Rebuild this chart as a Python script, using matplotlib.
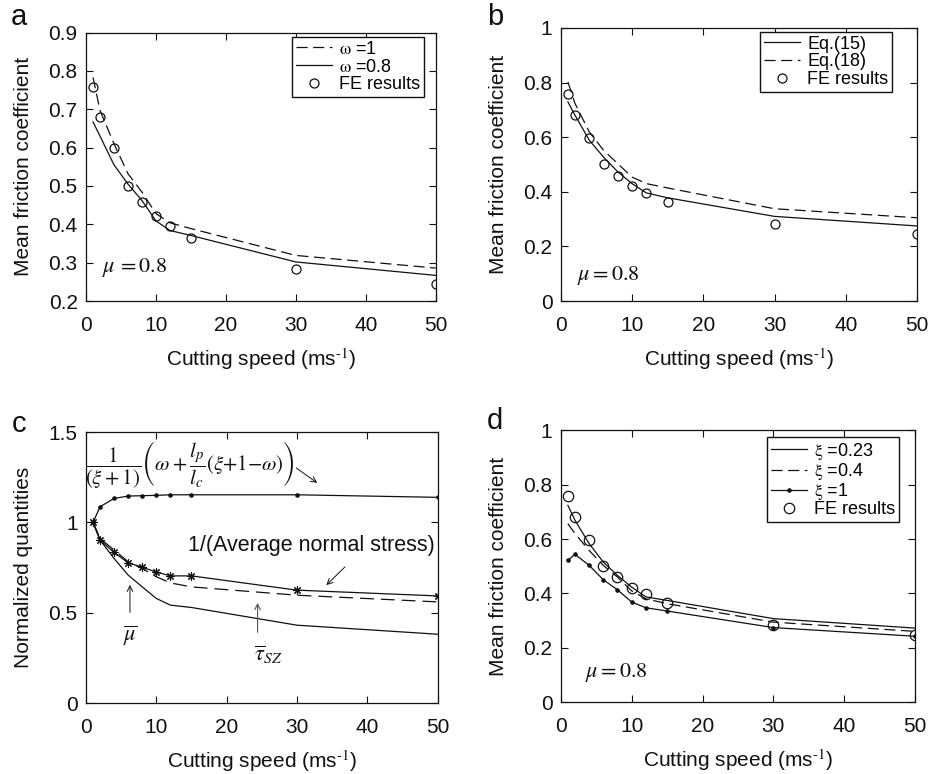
import matplotlib
matplotlib.use("Agg")
import matplotlib.pyplot as plt

plt.rcParams['font.family'] = ['Liberation Sans', 'DejaVu Sans']
plt.rcParams['mathtext.fontset'] = 'stix'
plt.rcParams['lines.scale_dashes'] = False
plt.rcParams['axes.linewidth'] = 0.9

# cutting speeds (m/s)
speed = [1, 2, 4, 6, 8, 10, 12, 15, 30, 50]

# FE results (shared by a, b, d)
fe_mu = [0.758, 0.680, 0.598, 0.501, 0.459, 0.421, 0.396, 0.364, 0.283, 0.245]

# panel a
a_omega1 = [0.783, 0.697, 0.610, 0.532, 0.484, 0.428, 0.404, 0.389, 0.319, 0.286]
a_omega08 = [0.667, 0.630, 0.555, 0.505, 0.462, 0.409, 0.384, 0.371, 0.302, 0.267]

# panel b
b_eq15 = [0.729, 0.680, 0.589, 0.527, 0.473, 0.430, 0.396, 0.378, 0.310, 0.275]
b_eq18 = [0.802, 0.723, 0.619, 0.552, 0.503, 0.454, 0.430, 0.414, 0.338, 0.305]

# panel c
c_ratio = [1.00, 1.087, 1.133, 1.146, 1.148, 1.150, 1.153, 1.153, 1.153, 1.139]
c_inv_stress = [1.00, 0.902, 0.834, 0.776, 0.752, 0.725, 0.704, 0.704, 0.625, 0.593]
c_tau = [1.00, 0.911, 0.847, 0.782, 0.745, 0.699, 0.665, 0.643, 0.597, 0.560]
c_mu = [1.00, 0.902, 0.800, 0.708, 0.643, 0.579, 0.542, 0.529, 0.431, 0.381]

# panel d
d_xi023 = [0.724, 0.669, 0.583, 0.515, 0.466, 0.423, 0.387, 0.374, 0.307, 0.272]
d_xi04 = [0.656, 0.620, 0.558, 0.503, 0.460, 0.409, 0.380, 0.362, 0.294, 0.260]
d_xi1 = [0.521, 0.544, 0.503, 0.450, 0.413, 0.368, 0.347, 0.335, 0.274, 0.242]

xticks = [0, 10, 20, 30, 40, 50]
xlab = r'Cutting speed (ms$^{\text{-1}}$)'
ylab_mu = 'Mean friction coefficient'

K = '#111111'
LW = 0.9
DASH = (8, 4)
TICK_FS = 15
LAB_FS = 15
LEG_FS = 13

fig = plt.figure(figsize=(9.3, 7.74), dpi=100)
ax_a = fig.add_axes([0.0925, 0.611, 0.376, 0.347])
ax_b = fig.add_axes([0.603, 0.611, 0.383, 0.353])
ax_c = fig.add_axes([0.0925, 0.0917, 0.378, 0.350])
ax_d = fig.add_axes([0.603, 0.093, 0.381, 0.351])


def style(ax, yticks, ylabels, ylim, ylabel):
    ax.set_xlim(0, 50)
    ax.set_ylim(*ylim)
    ax.set_xticks(xticks)
    ax.set_xticklabels([str(t) for t in xticks])
    ax.set_yticks(yticks)
    ax.set_yticklabels(ylabels)
    ax.tick_params(direction='in', top=True, right=True, length=5, width=0.8,
                   labelsize=TICK_FS, colors=K)
    ax.tick_params(axis='x', pad=11)
    ax.tick_params(axis='y', pad=6)
    ax.set_xlabel(xlab, fontsize=LAB_FS, color=K, labelpad=8)
    ax.set_ylabel(ylabel, fontsize=LAB_FS, color=K, labelpad=11)
    for s in ax.spines.values():
        s.set_color(K)


def leg(ax, handles, labels, anchor, spacing=0.05):
    lg = ax.legend(handles, labels, loc='upper right', bbox_to_anchor=anchor,
                   fontsize=LEG_FS, frameon=True, fancybox=False, framealpha=1,
                   edgecolor=K, handlelength=2.0, handletextpad=0.4,
                   labelspacing=spacing, borderpad=0.2, borderaxespad=0, numpoints=1)
    lg.get_frame().set_linewidth(1.0)
    return lg


# ---- a ----
ax = ax_a
l1, = ax.plot(speed, a_omega1, color=K, lw=LW, dashes=DASH)
l2, = ax.plot(speed, a_omega08, color=K, lw=LW)
l3, = ax.plot(speed, fe_mu, 'o', mfc='none', mec=K, ms=6.5, mew=0.9)
style(ax, [0.2, 0.3, 0.4, 0.5, 0.6, 0.7, 0.8, 0.9],
      ['0.2', '0.3', '0.4', '0.5', '0.6', '0.7', '0.8', '0.9'], (0.2, 0.9), ylab_mu)
leg(ax, [l1, l2, l3], [r'$\mathrm{\omega}$ =1', r'$\mathrm{\omega}$ =0.8', 'FE results'],
    (0.967, 0.983))
ax.text(2.3, 0.287, r'$\mu\,{=}0.8$', fontsize=16, color=K, va='center', ha='left')

# ---- b ----
ax = ax_b
l1, = ax.plot(speed, b_eq15, color=K, lw=LW)
l2, = ax.plot(speed, b_eq18, color=K, lw=LW, dashes=DASH)
l3, = ax.plot(speed, fe_mu, 'o', mfc='none', mec=K, ms=6.5, mew=0.9)
style(ax, [0, 0.2, 0.4, 0.6, 0.8, 1.0], ['0', '0.2', '0.4', '0.6', '0.8', '1'], (0, 1), ylab_mu)
leg(ax, [l1, l2, l3], ['Eq.(15)', 'Eq.(18)', 'FE results'], (0.93, 0.985))
ax.text(2.25, 0.095, r'$\mu = 0.8$', fontsize=16, color=K, va='center', ha='left')

# ---- c ----
ax = ax_c
ax.plot(speed, c_ratio, color=K, lw=LW, marker='o', ms=2.3)
ax.plot(speed, c_inv_stress, color=K, lw=LW, marker=(8, 2, 0), ms=6, mew=0.8)
ax.plot(speed, c_tau, color=K, lw=LW, dashes=(10, 5))
ax.plot(speed, c_mu, color=K, lw=LW)
style(ax, [0, 0.5, 1.0, 1.5], ['0', '0.5', '1', '1.5'], (0, 1.5), 'Normalized quantities')
ax.text(14.8, 1.317,
        r'$\dfrac{1}{(\xi+1)}\left(\omega+\dfrac{l_p}{l_c}(\xi{+}1{-}\omega)\right)$',
        fontsize=15, color=K, ha='center', va='center')
ax.annotate('', xy=(33.2, 1.21), xytext=(29.6, 1.31),
            arrowprops=dict(arrowstyle='->', color=K, lw=0.7))
ax.text(32.0, 0.874, '1/(Average normal stress)', fontsize=15.5, color=K,
        ha='center', va='center')
ax.annotate('', xy=(33.9, 0.642), xytext=(37.1, 0.764),
            arrowprops=dict(arrowstyle='->', color=K, lw=0.7))
ax.annotate('', xy=(6.25, 0.67), xytext=(6.25, 0.487),
            arrowprops=dict(arrowstyle='->', color=K, lw=0.7))
ax.text(6.25, 0.37, r'$\overline{\mu}$', fontsize=16, color=K, ha='center', va='center')
ax.annotate('', xy=(24.4, 0.57), xytext=(24.4, 0.376),
            arrowprops=dict(arrowstyle='->', color='#555555', lw=0.8))
ax.text(25.9, 0.265, r'$\overline{\tau}_{SZ}$', fontsize=16, color=K, ha='center', va='center')

# ---- d ----
ax = ax_d
l1, = ax.plot(speed, d_xi023, color=K, lw=LW)
l2, = ax.plot(speed, d_xi04, color=K, lw=LW, dashes=DASH)
l3, = ax.plot(speed, d_xi1, color=K, lw=LW, marker='o', ms=2.3)
l4, = ax.plot(speed, fe_mu, 'o', mfc='none', mec=K, ms=7.5, mew=0.9)
style(ax, [0, 0.2, 0.4, 0.6, 0.8, 1.0], ['0', '0.2', '0.4', '0.6', '0.8', '1'], (0, 1), ylab_mu)
leg(ax, [l1, l2, l3, l4],
    [r'$\mathrm{\xi}$ =0.23', r'$\mathrm{\xi}$ =0.4', r'$\mathrm{\xi}$ =1', 'FE results'],
    (0.955, 0.975), spacing=-0.05)
ax.text(3.4, 0.11, r'$\mu = 0.8$', fontsize=16, color=K, va='center', ha='left')

# panel letters
for lab, (x, y) in zip(['a', 'b', 'c', 'd'],
                       [(19, 17), (495, 17), (19, 424), (495, 421)]):
    fig.text(x / 930, 1 - y / 774, lab, fontsize=21, color=K, ha='center', va='center')

fig.savefig('out.png', dpi=100)
